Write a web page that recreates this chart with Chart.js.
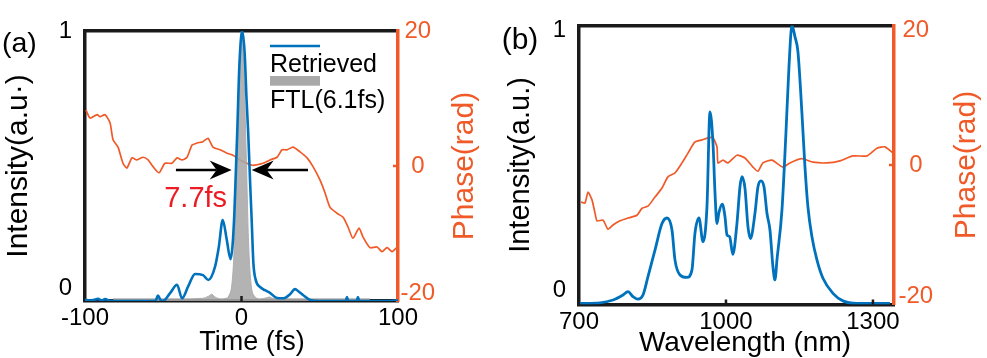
<!DOCTYPE html>
<html><head><meta charset="utf-8">
<script src="https://cdn.jsdelivr.net/npm/chart.js@4.4.1/dist/chart.umd.min.js"></script>
<style>
html,body{margin:0;padding:0;background:#fff;width:987px;height:358px;overflow:hidden}
#wa{position:absolute;left:0;top:0;width:490px;height:358px}
#wb{position:absolute;left:490px;top:0;width:497px;height:358px}
canvas{display:block}
</style></head><body>
<div id="wa"><canvas id="ca" width="490" height="358"></canvas></div>
<div id="wb"><canvas id="cb" width="497" height="358"></canvas></div>
<script>
// ---------- Panel (a): temporal pulse ----------
const timeTicks = [-100, 0, 100];
const timeRetrieved = [-100, -97, -94.5, -91.7, -89.5, -87.2, -84, -75, -65, -55, -53.4, -51.8, -50.2, -45.5, -41.2, -38, -34, -29.7, -24.6, -21.2, -16.9, -14.5, -12, -9.5, -7, -5.8, -4.6, -3.6, -2.7, -1.3, 0.5, 2, 3.2, 4.3, 5.5, 6.5, 7.6, 9, 11.8, 15, 18.2, 22.7, 27, 31, 34.2, 36.5, 39.3, 43.8, 50, 60, 66.6, 67.4, 68.2, 73.6, 74.4, 75.2, 85, 95, 100];
const intensityRetrieved = [0.005, 0.002, 0.004, 0.008, 0.002, 0.007, 0.001, 0.0, 0.0, 0.0, 0.02, 0.004, 0.0, 0.03, 0.06, 0.01, 0.055, 0.10, 0.096, 0.078, 0.127, 0.2, 0.30, 0.23, 0.155, 0.2, 0.32, 0.48, 0.63, 0.88, 1.0, 0.92, 0.75, 0.62, 0.44, 0.30, 0.14, 0.08, 0.052, 0.04, 0.03, 0.011, 0.01, 0.025, 0.044, 0.035, 0.022, 0.004, 0.0, 0.0, 0.0, 0.015, 0.0, 0.0, 0.015, 0.0, 0.0, 0.0, 0.003];
const timeFTL = [-82, -60, -40, -25, -21, -19, -17, -13, -10, -8, -6, -4.5, -3, -1.5, 0, 1.5, 3, 4.5, 6, 8, 12, 16, 18, 20, 25, 40, 60, 82];
const intensityFTL = [0.008, 0.008, 0.008, 0.01, 0.018, 0.025, 0.015, 0.008, 0.01, 0.02, 0.07, 0.22, 0.55, 0.86, 1.0, 0.86, 0.55, 0.22, 0.07, 0.02, 0.008, 0.012, 0.015, 0.01, 0.008, 0.008, 0.008, 0.008];
const timePhase = [-99.4, -96.8, -92.3, -90.4, -87.2, -84, -82.1, -78.9, -75.7, -73.2, -70, -66.8, -62.9, -59.7, -56.5, -52.7, -48.9, -44.4, -41.2, -38, -34.8, -31.6, -28.4, -24.6, -21.4, -18.2, -13.7, -9.3, -5.4, -1, 3.5, 7.3, 13.7, 18.2, 22.7, 25.9, 29.1, 32.9, 37.4, 41.9, 45.7, 50.2, 53.4, 56.5, 61, 64.9, 68, 71.2, 75.1, 77.6, 82.1, 86.6, 89.8, 93, 96.2, 99.4, 100];
const phaseTime = [8.3, 7.1, 7.6, 7.3, 7.6, 6.4, 3.9, 2.8, 0.4, -0.3, 1.2, 0.9, 1.3, 0.9, -0.1, -1.0, 0.4, 0.4, 1.2, 0.9, 1.3, 3.1, 3.4, 3.6, 4.1, 2.8, 2.4, 1.9, 1.6, 0.9, 0.4, 0.1, 0.4, 0.9, 1.3, 2.4, 2.4, 2.8, 2.1, 1.2, -0.1, -2.1, -4, -6.1, -7, -7.6, -9, -10.7, -9.2, -10.5, -12.1, -12, -12.7, -12.1, -12.7, -12.1, -13.5];
const intensityTicks = [0, 1];
const phaseTicks = [-20, 0, 20];
const pulseLabels = ['Retrieved', 'FTL(6.1fs)'];
const durationText = '7.7fs';
const durationArrowY = 0.485;
const arrowLeftFs = [-41.9, -6.3];   // tail, tip
const arrowRightFs = [42.5, 6.5];    // tail, tip
const durationTextPos = [-29.3, 0.35];

// ---------- Panel (b): spectrum ----------
const wavelengthTicks = [700, 1000, 1300];
const wavelength = [702, 742.9, 769.4, 789.8, 800, 810.2, 820.4, 830.6, 840.8, 855.1, 869.4, 879.6, 889.8, 895.9, 906.1, 920.4, 930.6, 936.7, 944.9, 953.1, 961.2, 967.3, 973.5, 977.6, 981.6, 985.7, 992.5, 998, 1002, 1007.5, 1014, 1022.4, 1028.6, 1032.7, 1038.8, 1044.9, 1050, 1059.2, 1065.3, 1071.4, 1077.6, 1083.7, 1089.8, 1095.9, 1100, 1104.1, 1114.3, 1122.4, 1128.6, 1134.7, 1140.8, 1146.9, 1155.1, 1161.2, 1167.3, 1175.5, 1185.7, 1198, 1218.4, 1238.8, 1267.3, 1334.7];
const spectrum = [0.004, 0.006, 0.016, 0.034, 0.046, 0.028, 0.019, 0.034, 0.10, 0.195, 0.29, 0.31, 0.267, 0.16, 0.106, 0.097, 0.124, 0.255, 0.31, 0.225, 0.35, 0.69, 0.578, 0.40, 0.29, 0.33, 0.36, 0.315, 0.25, 0.243, 0.18, 0.29, 0.422, 0.458, 0.416, 0.279, 0.236, 0.327, 0.422, 0.443, 0.422, 0.327, 0.267, 0.135, 0.088, 0.16, 0.339, 0.614, 0.852, 1.0, 0.96, 0.906, 0.685, 0.494, 0.35, 0.243, 0.16, 0.094, 0.04, 0.013, 0.004, 0.004];
const wavelengthPhase = [704.1, 712.2, 718.4, 726.5, 732.7, 736.7, 749, 759.2, 769.4, 783.7, 800, 818.4, 828.6, 840.8, 855.1, 869.4, 881.6, 895.9, 910.2, 922.4, 936.7, 951, 963.3, 973.5, 981.6, 983.7, 993.9, 1004.1, 1022.4, 1038.8, 1055.1, 1065.3, 1075.5, 1093.9, 1116.3, 1130.6, 1155.1, 1177.6, 1206.1, 1232.7, 1259.2, 1287.8, 1308.2, 1324.5, 1340.8];
const phaseSpectrum = [-5.3, -5.45, -3.9, -5.0, -6.9, -8.0, -7.9, -9.2, -8.6, -8.0, -7.6, -7.2, -6.2, -5.9, -4.6, -3.3, -1.7, -1.15, 0.3, 1.7, 3.3, 3.6, 3.9, 3.9, 2.6, 0.3, 0.7, 0.3, 1.4, 1.0, -0.3, -0.9, 0.3, 0.7, -0.3, 0.3, 0.9, 0.4, 0.3, 0.6, 1.3, 1.3, 2.4, 2.6, 1.7];

// ---------- styling ----------
const FONT = '"Liberation Sans", Arial, Helvetica, sans-serif';
const BLUE = '#0072BD', ORANGE = '#F05A28', GRAY = '#A9A9A9', RED = '#ED1C24', BLACK = '#1a1a1a';

const pts = (xs, ys) => xs.map((x, i) => ({x, y: ys[i]}));

const deco = {
  id: 'deco',
  afterDatasetsDraw(chart, args, o) {
    const ctx = chart.ctx, ca = chart.chartArea;
    ctx.save();
    (o.inTicks || []).forEach(t => {
      const s = chart.scales[t.axis];
      ctx.strokeStyle = t.color; ctx.lineWidth = 2.5;
      t.values.forEach(v => {
        const p = s.getPixelForValue(v);
        ctx.beginPath();
        if (s.isHorizontal()) { ctx.moveTo(p, ca.bottom); ctx.lineTo(p, ca.bottom - 5); }
        else { ctx.moveTo(ca.right, p); ctx.lineTo(ca.right - 5, p); }
        ctx.stroke();
      });
    });
    if (o.arrows) {
      const sx = chart.scales.x, sy = chart.scales.y;
      const y = sy.getPixelForValue(durationArrowY);
      const arrow = (tail, tip) => {
        const x0 = sx.getPixelForValue(tail), x1 = sx.getPixelForValue(tip);
        const dir = Math.sign(x1 - x0), L = 22, W = 9.5, N = 15;
        ctx.strokeStyle = '#000'; ctx.fillStyle = '#000'; ctx.lineWidth = 2.5;
        ctx.beginPath(); ctx.moveTo(x0, y); ctx.lineTo(x1 - dir * N, y); ctx.stroke();
        ctx.beginPath(); ctx.moveTo(x1, y); ctx.lineTo(x1 - dir * L, y - W);
        ctx.lineTo(x1 - dir * N, y); ctx.lineTo(x1 - dir * L, y + W); ctx.closePath(); ctx.fill();
      };
      arrow(arrowLeftFs[0], arrowLeftFs[1]);
      arrow(arrowRightFs[0], arrowRightFs[1]);
      ctx.fillStyle = RED; ctx.font = '29px ' + FONT;
      ctx.textAlign = 'center'; ctx.textBaseline = 'alphabetic';
      ctx.fillText(durationText, sx.getPixelForValue(durationTextPos[0]), sy.getPixelForValue(durationTextPos[1]));
    }
    if (o.legend) {
      const ds = chart.data.datasets;
      const lx = o.legend.x;
      ctx.textAlign = 'left'; ctx.textBaseline = 'alphabetic'; ctx.font = '25px ' + FONT; ctx.fillStyle = '#000';
      ctx.strokeStyle = ds[0].borderColor; ctx.lineWidth = 2.5;
      ctx.beginPath(); ctx.moveTo(lx, 46); ctx.lineTo(lx + 50, 46); ctx.stroke();
      ctx.fillText(ds[0].label, lx, 71.7);
      ctx.fillStyle = GRAY; ctx.fillRect(lx, 76, 50, 9.7);
      ctx.fillStyle = '#000';
      ctx.fillText(ds[1].label, lx, 108.3);
    }
    ctx.restore();
  },
  afterDraw(chart, args, o) {
    const ctx = chart.ctx, ca = chart.chartArea;
    ctx.save();
    ctx.fillStyle = '#000'; ctx.textAlign = 'left'; ctx.textBaseline = 'alphabetic';
    ctx.font = o.panel.size + 'px ' + FONT;
    ctx.fillText(o.panel.text, o.panel.x, o.panel.y);
    // x axis title (slightly right of centre, as in the figure)
    const xt = o.xTitle;
    ctx.textAlign = 'center'; ctx.textBaseline = 'middle';
    ctx.font = xt.size + 'px ' + FONT;
    ctx.fillText(xt.text, (ca.left + ca.right) / 2 + xt.dx, xt.y);
    // right axis title, reading bottom-to-top
    const rt = o.rightTitle;
    ctx.translate(rt.x, (ca.top + ca.bottom) / 2);
    ctx.rotate(-Math.PI / 2);
    ctx.fillStyle = ORANGE; ctx.font = rt.size + 'px ' + FONT;
    ctx.fillText(rt.text, 0, 0);
    ctx.restore();
  }
};

function makeChart(id, cfg) {
  const tickFont = (shifts) => (c) => {
    const v = c.tick ? c.tick.value : null;
    const s = shifts[v];
    return {family: FONT, size: 24, lineHeight: s ? (2 * Math.abs(s)) + 'px' : 1.2};
  };
  const tickLabel = (shifts) => (v) => {
    const s = shifts[v];
    if (!s) return String(v);
    return s > 0 ? [String(v), ''] : ['', String(v)];
  };
  return new Chart(document.getElementById(id), {
    type: 'line',
    data: {datasets: cfg.datasets},
    plugins: [deco],
    options: {
      responsive: false, animation: false, devicePixelRatio: 1,
      layout: {padding: {top: cfg.area.top, left: 0, right: 0, bottom: 0}},
      plugins: {legend: {display: false}, tooltip: {enabled: false}, deco: cfg.deco},
      elements: {point: {radius: 0}},
      scales: {
        x: {
          type: 'linear', position: 'bottom', min: cfg.xRange[0], max: cfg.xRange[1],
          afterBuildTicks: s => { s.ticks = cfg.xTicks.map(v => ({value: v})); },
          afterFit: s => { s.height = cfg.area.xh; },
          grid: {display: false, drawTicks: false},
          border: {display: true, color: BLACK, width: 3.5},
          ticks: {color: '#000', font: {family: FONT, size: 24, lineHeight: 1.2}, padding: 3, maxRotation: 0, autoSkip: false, callback: v => String(v)},
          title: {display: false, text: cfg.deco.xTitle.text}
        },
        xTop: {
          type: 'linear', position: 'top', min: cfg.xRange[0], max: cfg.xRange[1],
          ticks: {display: false}, grid: {display: false, drawTicks: false},
          border: {display: true, color: BLACK, width: 3.5},
          afterFit: s => { s.height = 0; }
        },
        y: {
          type: 'linear', position: 'left', min: 0, max: 1,
          afterBuildTicks: s => { s.ticks = intensityTicks.map(v => ({value: v})); },
          afterFit: s => { s.width = cfg.area.left; },
          grid: {display: false, drawTicks: false},
          border: {display: true, color: BLACK, width: 3.5},
          ticks: {color: '#000', font: tickFont(cfg.yShift), padding: 13, callback: tickLabel(cfg.yShift)},
          title: {display: true, text: cfg.yTitle, color: '#000', font: {family: FONT, size: cfg.yTitleSize, lineHeight: 1}, padding: {top: cfg.yTitlePad, bottom: 0}}
        },
        y2: {
          type: 'linear', position: 'right', min: -20, max: 20,
          afterBuildTicks: s => { s.ticks = phaseTicks.map(v => ({value: v})); },
          afterFit: s => { s.width = cfg.area.right; },
          grid: {display: false, drawTicks: false},
          border: {display: true, color: ORANGE, width: 3.5},
          ticks: {color: ORANGE, font: tickFont(cfg.y2Shift), padding: cfg.y2Pad, crossAlign: 'center', callback: tickLabel(cfg.y2Shift)},
          title: {display: false, text: cfg.deco.rightTitle.text}
        }
      }
    }
  });
}

makeChart('ca', {
  area: {top: 31, left: 85, right: 92, xh: 57},
  xRange: [-100, 100], xTicks: timeTicks,
  yTitle: 'Intensity(a.u·)', yTitleSize: 30, yTitlePad: 4,
  yShift: {0: 12.5}, y2Shift: {'-20': 7.7}, y2Pad: 2.5,
  datasets: [
    {label: pulseLabels[0], data: pts(timeRetrieved, intensityRetrieved), yAxisID: 'y', borderColor: BLUE, borderWidth: 2.6, cubicInterpolationMode: 'monotone', fill: false, order: 0},
    {label: pulseLabels[1], data: pts(timeFTL, intensityFTL), yAxisID: 'y', borderColor: 'rgba(170,170,170,0.9)', borderWidth: 1, backgroundColor: 'rgba(168,168,168,0.88)', cubicInterpolationMode: 'monotone', fill: 'origin', order: 1},
    {label: 'Phase', data: pts(timePhase, phaseTime), yAxisID: 'y2', borderColor: ORANGE, borderWidth: 1.7, tension: 0.2, fill: false, order: 2}
  ],
  deco: {
    panel: {text: '(a)', x: 2, y: 52.3, size: 28.5},
    xTitle: {text: 'Time (fs)', size: 27, dx: 10.5, y: 342.5},
    rightTitle: {text: 'Phase(rad)', x: 465, size: 30},
    inTicks: [{axis: 'x', values: [0], color: BLACK}, {axis: 'y2', values: [0], color: ORANGE}],
    legend: {x: 270}, arrows: true
  }
});

makeChart('cb', {
  area: {top: 25.5, left: 89, right: 93, xh: 53.5},
  xRange: [700, 1343], xTicks: wavelengthTicks,
  yTitle: 'Intensity(a.u.)', yTitleSize: 29, yTitlePad: 16.5,
  yShift: {0: 14.5, 1: -5}, y2Shift: {'-20': 7.8, 20: -5}, y2Pad: 4.5,
  datasets: [
    {label: 'Spectrum', data: pts(wavelength, spectrum), yAxisID: 'y', borderColor: BLUE, borderWidth: 2.8, cubicInterpolationMode: 'monotone', fill: false, order: 0},
    {label: 'Phase', data: pts(wavelengthPhase, phaseSpectrum), yAxisID: 'y2', borderColor: ORANGE, borderWidth: 1.7, tension: 0.2, fill: false, order: 1}
  ],
  deco: {
    panel: {text: '(b)', x: 11.7, y: 48.6, size: 30},
    xTitle: {text: 'Wavelength (nm)', size: 28, dx: 8.5, y: 343.3},
    rightTitle: {text: 'Phase(rad)', x: 477, size: 30},
    inTicks: [{axis: 'x', values: [1000, 1300], color: BLACK}, {axis: 'y2', values: [0], color: ORANGE}]
  }
});
</script>
</body></html>
